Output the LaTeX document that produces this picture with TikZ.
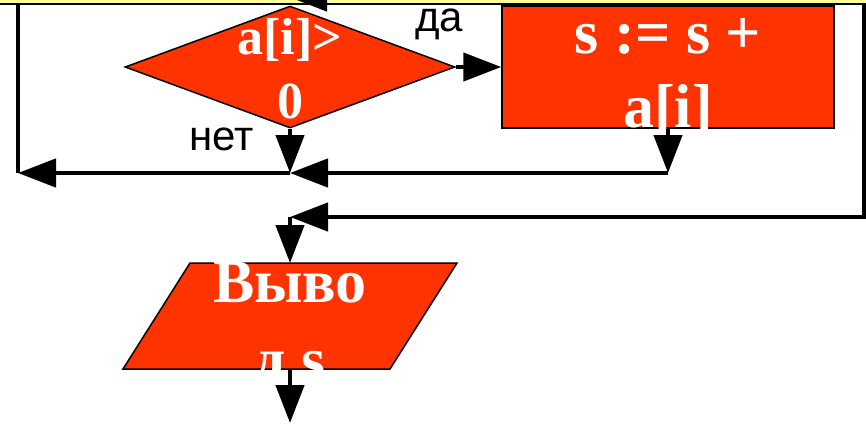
\documentclass[tikz,border=0pt]{standalone}
\usepackage{fontspec}
\setmainfont{Liberation Serif}
\newfontfamily\labelfont{Liberation Sans}
\usetikzlibrary{shapes.geometric,arrows.meta}
\definecolor{blockred}{RGB}{255,51,0}
\definecolor{bandyellow}{RGB}{255,255,153}
\begin{document}
\begin{tikzpicture}[x=1pt, y=-1pt,
  block/.style={draw=black, line width=1.5pt, fill=blockred, inner sep=0pt},
  conn/.style={line width=4.5pt, black},
  tip/.style={-{Triangle[length=38pt, width=28pt]}},
  blocktext/.style={text=white, font=\bfseries\fontsize{#1}{#1}\selectfont, anchor=base, inner sep=0pt},
  answer/.style={font=\labelfont\fontsize{42}{42}\selectfont, anchor=base, inner sep=0pt}]
\useasboundingbox (0,0) rectangle (866,432);
\fill[bandyellow] (0,0) rectangle (866,3);
\draw[line width=2.5pt] (0,4) -- (866,4);

\node[block, diamond, minimum width=330pt, minimum height=122pt] (cond) at (290,67) {};
\node[block, rectangle, minimum width=332pt, minimum height=122pt] (sum) at (668,67) {};
% output block
\filldraw[block] (190,263) -- (457,263) -- (390,369) -- (123,369) -- cycle;
\coordinate (out-in) at (290,263);
\coordinate (out-exit) at (290,369);

\node[blocktext=52] (cond-a) at (290,54) {a[i]>};
\node[blocktext=52] (cond-b) at (290,118) {0};
\node[blocktext=62] (sum-a) at (668,53) {s := s +};
\node[blocktext=62] (sum-b) at (668,127) {a[i]};
\node[blocktext=62] (out-a) at (290,302) {Выво};
\node[blocktext=62] (out-b) at (290,380) {д s};

\node[answer] (yes) at (439,31) {да};
\node[answer] (no) at (222,150) {нет};

\coordinate (top-src) at (400,-3);
\coordinate (top-in) at (289,-3);
\coordinate (join-a) at (290,173);
\coordinate (sum-end) at (668,173);
\coordinate (corner-l) at (18,173);
\coordinate (top-l) at (18,4);
\coordinate (top-r) at (864,4);
\coordinate (corner-r) at (864,217);
\coordinate (join-b) at (290,217);
\coordinate (exit) at (290,423);

\draw[conn, tip] (top-src) -- (top-in);
\draw[conn, tip] (cond.east) -- (sum.west);
\draw[conn, tip] (cond.south) -- (join-a);
\draw[conn, tip] (sum.south) -- (sum-end);
\draw[conn, tip] (sum-end) -- (join-a);
\draw[conn, tip] (join-a) -- (corner-l);
\draw[conn] (corner-l) -- (top-l);
\draw[conn, tip] (top-r) -- (corner-r) -- (join-b);
\draw[conn, tip] (join-b) -- (out-in);
\draw[conn, tip] (out-exit) -- (exit);
\end{tikzpicture}
\end{document}
